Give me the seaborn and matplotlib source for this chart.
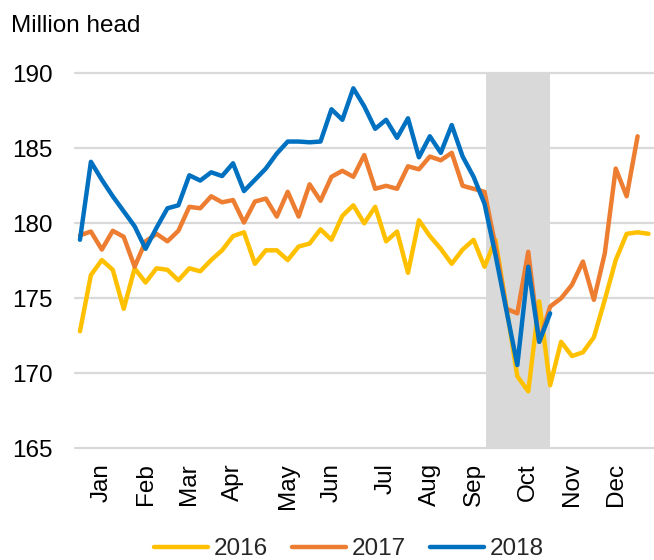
import numpy as np
import pandas as pd
import matplotlib
matplotlib.use("Agg")
import matplotlib.pyplot as plt
from matplotlib.lines import Line2D
import seaborn as sns

# ---- data ----
years = ["2016", "2017", "2018"]
v2016 = [172.8, 176.55, 177.55, 176.9, 174.3, 177.0, 176.05, 177.0, 176.9, 176.2,
         177.0, 176.8, 177.55, 178.2, 179.15, 179.4, 177.3, 178.2, 178.2, 177.55,
         178.45, 178.65, 179.6, 178.9, 180.5, 181.2, 180.0, 181.1, 178.8, 179.45,
         176.7, 180.2, 179.15, 178.3, 177.3, 178.25, 178.9, 177.1, 178.9, 174.4,
         169.8, 168.8, 174.8, 169.2, 172.1, 171.15, 171.4, 172.4, 174.9, 177.55,
         179.3, 179.4, 179.3]
v2017 = [179.2, 179.45, 178.25, 179.5, 179.1, 177.1, 178.8, 179.3, 178.8, 179.5,
         181.1, 181.0, 181.8, 181.4, 181.55, 180.05, 181.45, 181.65, 180.45, 182.1,
         180.45, 182.6, 181.5, 183.1, 183.5, 183.1, 184.55, 182.3, 182.5, 182.3,
         183.8, 183.6, 184.45, 184.2, 184.7, 182.5, 182.3, 182.1, 178.5, 174.3,
         174.0, 178.1, 172.1, 174.45, 175.0, 175.9, 177.45, 174.9, 178.0, 183.65,
         181.8, 185.8]
v2018 = [178.9, 184.1, 182.9, 181.8, 180.8, 179.8, 178.3, 179.7, 181.0, 181.2,
         183.2, 182.85, 183.4, 183.15, 184.0, 182.15, 182.9, 183.65, 184.65, 185.45,
         185.45, 185.4, 185.45, 187.6, 186.9, 189.0, 187.8, 186.3, 186.9, 185.7,
         187.0, 184.4, 185.8, 184.7, 186.55, 184.45, 183.1, 181.3, 177.9, 174.2,
         170.55, 177.1, 172.1, 174.0]
months = ["Jan", "Feb", "Mar", "Apr", "May", "Jun", "Jul", "Aug", "Sep", "Oct", "Nov", "Dec"]
month_weeks = [2, 6, 10, 14, 19, 23, 28, 32, 36, 41, 45, 49]
shade_weeks = (37.1, 43.0)
y_ticks = [165, 170, 175, 180, 185, 190]
colors = {"2016": "#FFC000", "2017": "#ED7D31", "2018": "#0070C0"}

sns.set_theme(style="white")
plt.rcParams['font.family'] = ['Liberation Sans', 'DejaVu Sans']
FS = 17.5

frames = []
for yr, vals in zip(years, [v2016, v2017, v2018]):
    frames.append(pd.DataFrame({"week": np.arange(len(vals)), "value": vals, "year": yr}))
df = pd.concat(frames, ignore_index=True)

fig = plt.figure(figsize=(6.54, 5.6), dpi=100)
W, H = 654, 560
left, right, top, bottom = 74.5, 654, 73.3, 448.3
ax = fig.add_axes([left / W, (H - bottom) / H, (right - left) / W, (bottom - top) / H])

for yt in y_ticks:
    ax.axhline(yt, color="#D9D9D9", lw=1.6, zorder=0.5, clip_on=False)
ax.axvspan(*shade_weeks, color="#D9D9D9", lw=0, zorder=1)

sns.lineplot(data=df, x="week", y="value", hue="year", palette=colors,
             linewidth=3.2, ax=ax, legend=False, zorder=3)

ax.set_xlim(-0.5, 52.5)
ax.set_ylim(165, 190)
ax.set_yticks(y_ticks)
ax.set_yticklabels([str(t) for t in y_ticks], fontsize=FS, color="#000000")
ax.set_xticks(month_weeks)
ax.set_xticklabels(months, rotation=90, fontsize=FS, color="#000000")
ax.tick_params(axis="x", length=0, pad=10.5)
ax.tick_params(axis="y", length=0, pad=16)
ax.set_xlabel("")
ax.set_ylabel("")
for s in ax.spines.values():
    s.set_visible(False)
ax.grid(False)

fig.text(11 / W, 1 - 32 / H, "Million head", fontsize=FS, ha="left", va="baseline", color="#000000")

handles = [Line2D([0], [0], color=colors[y], lw=3.2) for y in years]
fig.legend(handles, years, loc="center", bbox_to_anchor=(349 / W, 1 - 549 / H), ncol=3,
           frameon=False, fontsize=FS, handlelength=2.2, handletextpad=0.25,
           columnspacing=1.0, borderaxespad=0, borderpad=0)

fig.savefig("out.png", dpi=100)
